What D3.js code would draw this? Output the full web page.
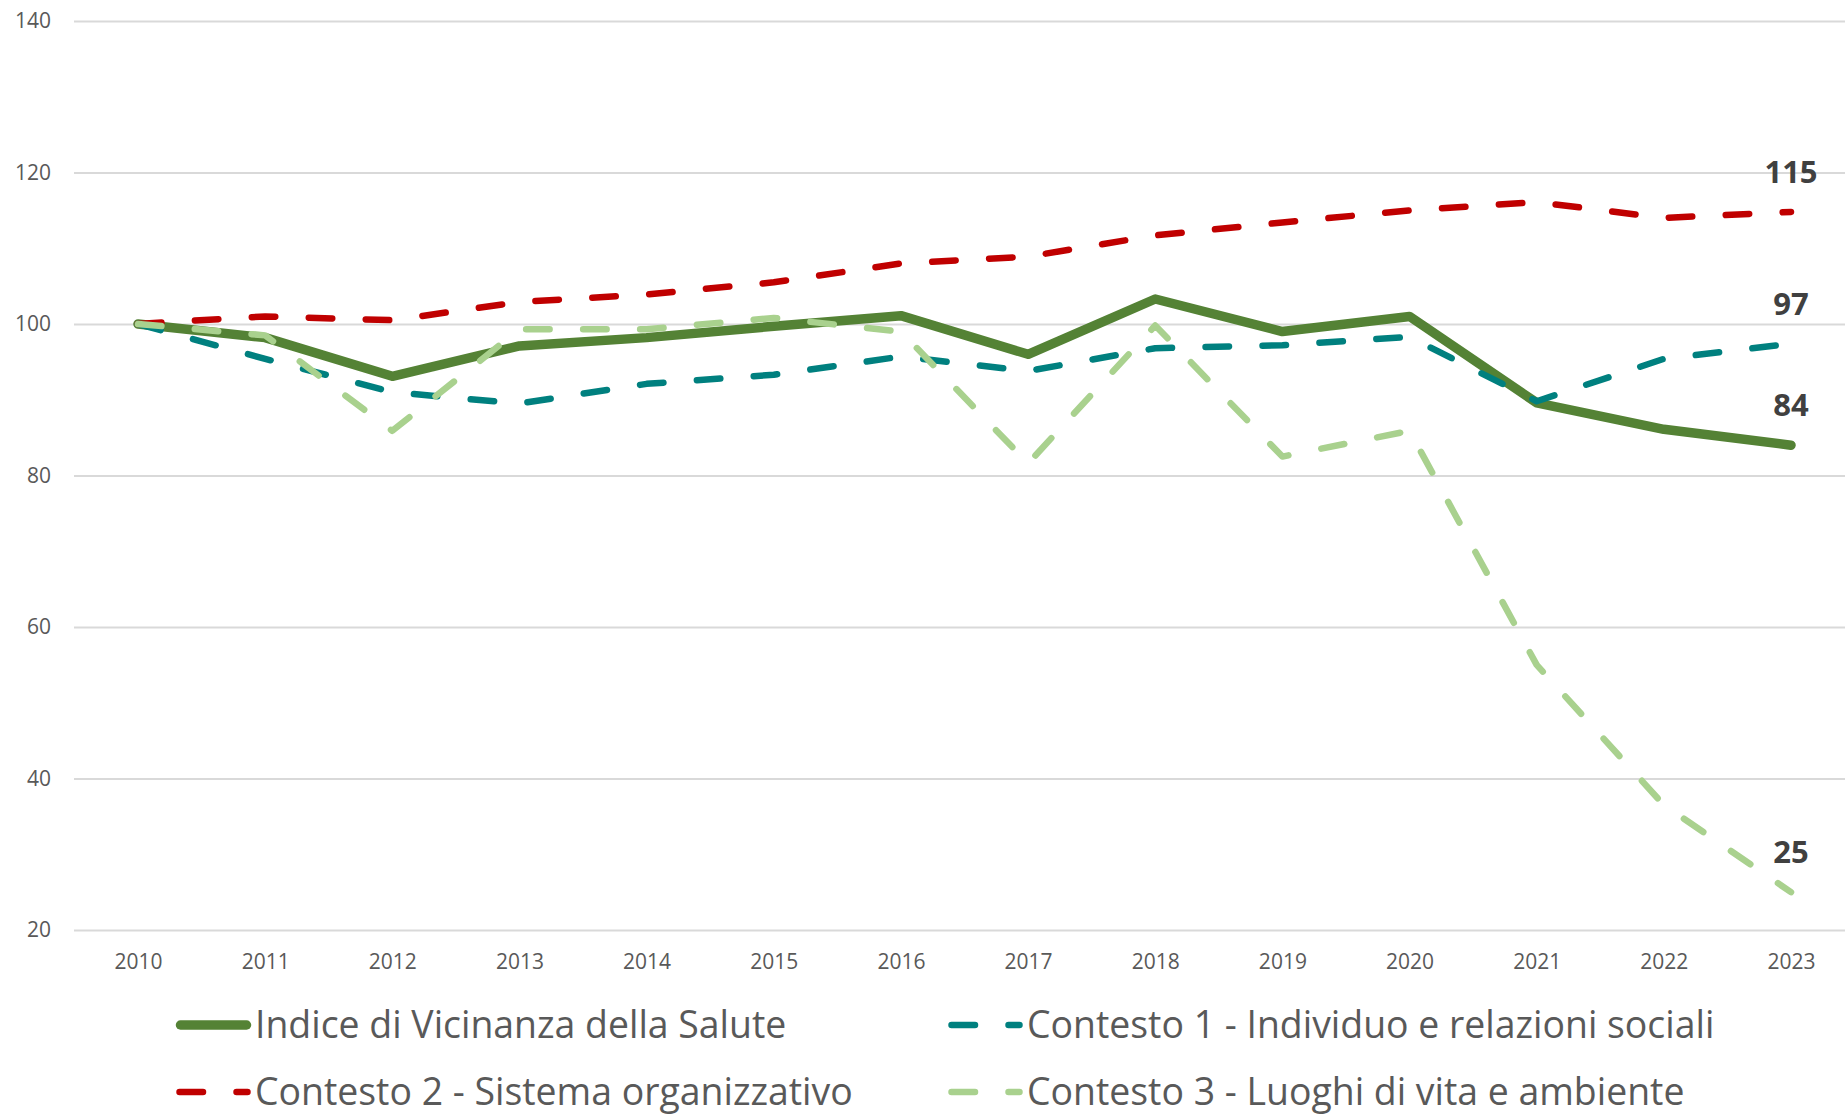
<!DOCTYPE html>
<html>
<head>
<meta charset="utf-8">
<script src="https://cdn.jsdelivr.net/npm/d3@7"></script>
<style>
  html, body { margin: 0; padding: 0; background: #fff; }
  svg { display: block; font-family: 'Open Sans', 'Noto Sans', sans-serif; }
</style>
</head>
<body>
<svg id="chart"></svg>
<script>
/* Data */
const years = ['2010', '2011', '2012', '2013', '2014', '2015', '2016', '2017', '2018', '2019', '2020', '2021', '2022', '2023'];
const indice = [100, 98.2, 93.1, 97.1, 98.2, 99.7, 101.1, 96.0, 103.3, 99.0, 101.0, 89.6, 86.1, 84.0];
const contesto1 = [100, 95.4, 91.0, 89.5, 92.1, 93.3, 95.7, 93.8, 96.8, 97.2, 98.3, 89.8, 95.4, 97.4];
const contesto2 = [100, 101.0, 100.5, 102.9, 103.9, 105.5, 108.0, 108.9, 111.7, 113.4, 115.0, 116.1, 114.0, 114.8];
const contesto3 = [100, 98.5, 85.9, 99.3, 99.3, 100.8, 99.0, 81.6, 99.8, 82.5, 85.9, 55.0, 36.5, 25.0];
const yTicks = [20, 40, 60, 80, 100, 120, 140];
const seriesNames = [
  'Indice di Vicinanza della Salute',
  'Contesto 1 - Individuo e relazioni sociali',
  'Contesto 2 - Sistema organizzativo',
  'Contesto 3 - Luoghi di vita e ambiente',
];

/* SVG frame's settings */
const width = 1845;
const height = 1114;
const plot = { left: 74, right: 1845, top: 21, bottom: 930 };

const series = [
  { name: seriesNames[0], values: indice, color: '#548235', width: 9.5, dash: null },
  { name: seriesNames[1], values: contesto1, color: '#00807f', width: 6.5, dash: '23.5 33.5' },
  { name: seriesNames[2], values: contesto2, color: '#c00000', width: 6.5, dash: '23.5 33.5' },
  { name: seriesNames[3], values: contesto3, color: '#a9d18e', width: 6.5, dash: '23.5 33.5' },
];

const svg = d3.select('#chart')
  .attr('width', width)
  .attr('height', height)
  .attr('viewBox', `0 0 ${width} ${height}`);

const x = d3.scalePoint().domain(years).range([138, 1791]);
const y = d3.scaleLinear().domain([20, 140]).range([plot.bottom, plot.top]);

/* Horizontal gridlines + y labels */
const yAxis = d3.axisLeft(y)
  .tickValues(yTicks)
  .tickSize(-(plot.right - plot.left))
  .tickPadding(23);

svg.append('g')
  .attr('transform', `translate(${plot.left},0)`)
  .call(yAxis)
  .call(g => g.select('.domain').remove())
  .call(g => g.selectAll('.tick line').attr('stroke', '#d9d9d9').attr('stroke-width', 2))
  .call(g => g.selectAll('.tick text')
    .attr('fill', '#595959')
    .style('font-size', '21px')
    .style('font-family', "'Open Sans', sans-serif"));

/* Category axis, labels only */
const xAxis = d3.axisBottom(x).tickSize(0).tickPadding(24);

svg.append('g')
  .attr('transform', `translate(0,${plot.bottom})`)
  .call(xAxis)
  .call(g => g.select('.domain').remove())
  .call(g => g.selectAll('.tick text')
    .attr('fill', '#595959')
    .style('font-size', '21px')
    .style('font-family', "'Open Sans', sans-serif"));

/* Lines */
const line = d3.line()
  .x((d, i) => x(years[i]))
  .y(d => y(d));

svg.append('g')
  .selectAll('path')
  .data(series)
  .join('path')
  .attr('d', d => line(d.values))
  .attr('fill', 'none')
  .attr('stroke', d => d.color)
  .attr('stroke-width', d => d.width)
  .attr('stroke-linecap', 'round')
  .attr('stroke-linejoin', 'round')
  .attr('stroke-dasharray', d => d.dash);

/* End value labels */
const last = years[years.length - 1];
svg.append('g')
  .selectAll('text')
  .data(series)
  .join('text')
  .attr('x', x(last))
  .attr('y', d => y(d.values[d.values.length - 1]) - 29)
  .attr('text-anchor', 'middle')
  .attr('fill', '#404040')
  .style('font-size', '31px')
  .style('font-weight', '700')
  .text(d => d3.format('.0f')(d.values[d.values.length - 1]));

/* Legend, two columns */
const legendPos = [
  { x: 176, y: 1025 },
  { x: 948, y: 1025 },
  { x: 176, y: 1092 },
  { x: 948, y: 1092 },
];

const legend = svg.append('g')
  .selectAll('g')
  .data(series)
  .join('g')
  .attr('transform', (d, i) => `translate(${legendPos[i].x},${legendPos[i].y})`);

legend.append('line')
  .attr('x1', d => (d.dash ? 3.5 : 4.5))
  .attr('x2', d => (d.dash ? 71.5 : 70.5))
  .attr('stroke', d => d.color)
  .attr('stroke-width', d => d.width)
  .attr('stroke-linecap', 'round')
  .attr('stroke-dasharray', d => d.dash);

legend.append('text')
  .attr('x', 79)
  .attr('dy', '0.35em')
  .attr('fill', '#595959')
  .style('font-size', '37.4px')
  .text(d => d.name);
</script>
</body>
</html>
